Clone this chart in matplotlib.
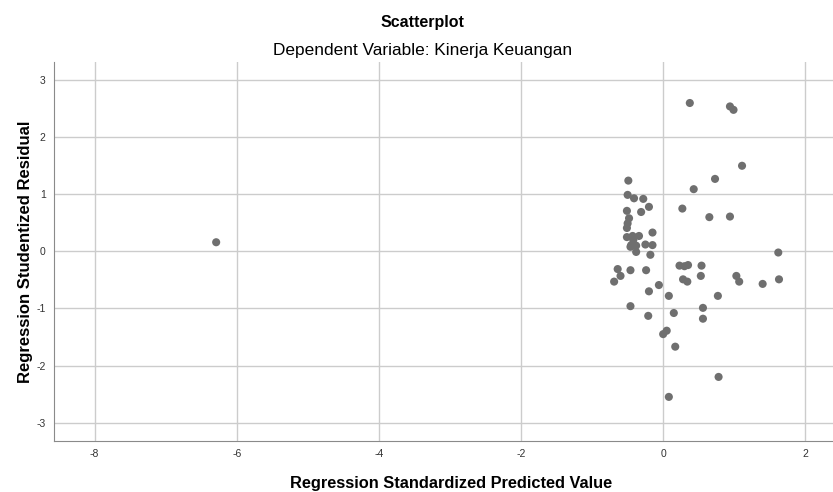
import numpy as np
import matplotlib
matplotlib.use('Agg')
import matplotlib.pyplot as plt

plt.rcParams['font.family'] = ['Liberation Sans', 'DejaVu Sans']
plt.rcParams['axes.unicode_minus'] = False

# standardized predicted value (x) and studentized residual (y)
pred = [-6.29,
        0.375, 0.94, 0.99, 1.11, 0.73, 0.43,
        -0.49, -0.50, -0.41, -0.28, -0.20, -0.31, -0.51, 0.27, 0.65, 0.94,
        -0.48, -0.50, -0.51, -0.15, -0.51, -0.43, -0.34, -0.42,
        -0.45, -0.38, -0.25, -0.15, -0.46, -0.38, -0.18, 1.62,
        -0.64, -0.46, -0.24, -0.60, -0.69,
        0.23, 0.30, 0.35, 0.54, 0.53, 0.28, 0.34, 1.03, 1.07, 1.40, 1.63,
        -0.06, -0.20, 0.08, 0.77, -0.46, 0.56, 0.15, -0.21, 0.56,
        0.05, 0.00, 0.17, 0.78, 0.08]
resid = [0.16,
         2.60, 2.54, 2.48, 1.50, 1.27, 1.09,
         1.24, 0.99, 0.93, 0.92, 0.78, 0.69, 0.71, 0.75, 0.60, 0.61,
         0.58, 0.49, 0.41, 0.33, 0.25, 0.27, 0.27, 0.20,
         0.11, 0.10, 0.12, 0.11, 0.08, -0.01, -0.06, -0.02,
         -0.31, -0.33, -0.33, -0.43, -0.53,
         -0.25, -0.26, -0.24, -0.25, -0.43, -0.49, -0.53, -0.43, -0.53, -0.57, -0.49,
         -0.59, -0.70, -0.78, -0.78, -0.96, -0.99, -1.08, -1.13, -1.18,
         -1.39, -1.45, -1.67, -2.20, -2.55]

xticks = [-8, -6, -4, -2, 0, 2]
yticks = [-3, -2, -1, 0, 1, 2, 3]

fig = plt.figure(figsize=(8.33, 4.92), dpi=100)
ax = fig.add_axes([0.065, 0.104, 0.935, 0.769])
ax.scatter(pred, resid, s=34, color='#6f6f6f', edgecolors='none', zorder=3)

ax.set_xlim(-8.57, 2.39)
ax.set_ylim(-3.32, 3.31)
ax.set_xticks(xticks)
ax.set_yticks(yticks)
ax.grid(True, color='#cccccc', lw=1.0)
ax.set_axisbelow(True)
for s in ['top', 'right']:
    ax.spines[s].set_visible(False)
for s in ['left', 'bottom']:
    ax.spines[s].set_color('#8a8a8a')
ax.tick_params(length=0, labelsize=7.5, colors='#333333', pad=6)

ax.set_xlabel('Regression Standardized Predicted Value', fontsize=11.8,
              fontweight='bold', va='center')
ax.xaxis.set_label_coords(0.509, -0.112)
ax.set_ylabel('Regression Studentized Residual', fontsize=12,
              fontweight='bold', va='center')
ax.yaxis.set_label_coords(-0.037, 0.5)

fig.text(0.507, 1 - 22 / 492, 'Scatterplot', ha='center', va='center',
         fontsize=11.5, fontweight='bold')
fig.text(0.507, 1 - 51 / 492, 'Dependent Variable: Kinerja Keuangan',
         ha='center', va='center', fontsize=12.4)

fig.savefig('out.png', dpi=100)
